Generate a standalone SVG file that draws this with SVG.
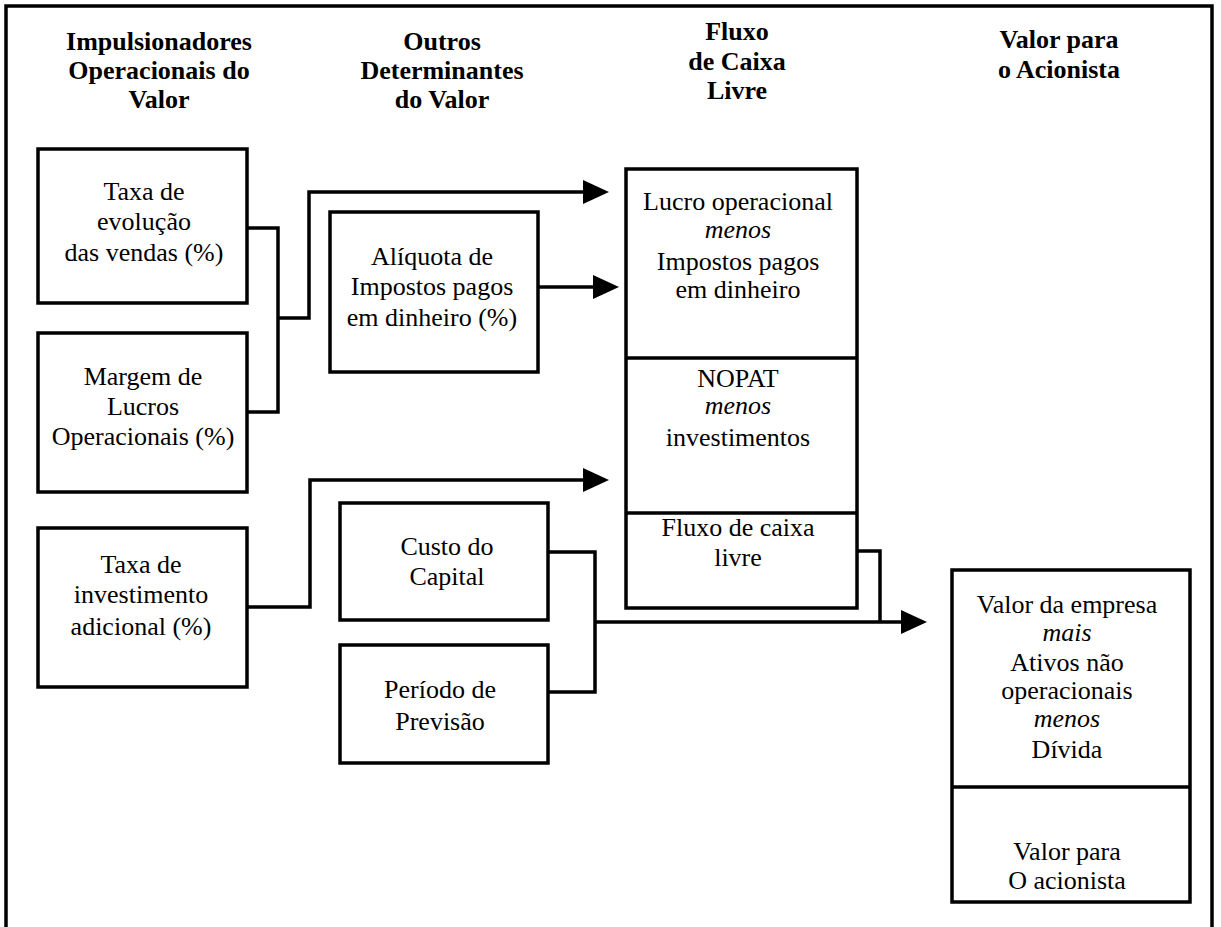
<svg xmlns="http://www.w3.org/2000/svg" width="1221" height="927" viewBox="0 0 1221 927">
<style>
  .box { fill: #fff; stroke: #000; stroke-width: 3.5; }
  .div { stroke: #000; stroke-width: 3.5; fill: none; }
  .line { stroke: #000; stroke-width: 3.5; fill: none; }
  .t { font-family: "Liberation Serif", "Times New Roman", serif; font-size: 26px; fill: #000; text-anchor: middle; }
  .h { font-family: "Liberation Serif", "Times New Roman", serif; font-size: 26px; font-weight: bold; fill: #000; text-anchor: middle; }
  .i { font-style: italic; }
</style>
<defs>
  <marker id="arr" markerUnits="userSpaceOnUse" markerWidth="26" markerHeight="24" refX="0" refY="12" orient="auto">
    <polygon points="0,0 26,12 0,24" fill="#000"/>
  </marker>
</defs>
<rect x="0" y="0" width="1221" height="927" fill="#fff"/>
<path d="M6,930 V6 H1212 V930" fill="none" stroke="#000" stroke-width="3.5"/>

<g id="headers">
  <text class="h" x="159" y="50">Impulsionadores</text>
  <text class="h" x="159" y="79">Operacionais do</text>
  <text class="h" x="159" y="108">Valor</text>
  <text class="h" x="442" y="50">Outros</text>
  <text class="h" x="442" y="79">Determinantes</text>
  <text class="h" x="442" y="108">do Valor</text>
  <text class="h" x="737" y="40">Fluxo</text>
  <text class="h" x="737" y="70">de Caixa</text>
  <text class="h" x="737" y="99">Livre</text>
  <text class="h" x="1059" y="48">Valor para</text>
  <text class="h" x="1059" y="78">o Acionista</text>
</g>

<g id="connectors">
  <path class="line" d="M247,228 H278 V412 H247"/>
  <path class="line" d="M278,318 H309 V192 H583" marker-end="url(#arr)"/>
  <path class="line" d="M538,287 H593" marker-end="url(#arr)"/>
  <path class="line" d="M247,607 H310 V480 H583" marker-end="url(#arr)"/>
  <path class="line" d="M548,552 H595 V692 H548"/>
  <path class="line" d="M595,622 H901" marker-end="url(#arr)"/>
  <path class="line" d="M857,551 H880 V622"/>
</g>

<g id="node-taxa-evolucao">
  <rect class="box" x="38" y="149" width="209" height="154"/>
  <text class="t" x="144" y="200">Taxa de</text>
  <text class="t" x="144" y="230">evolução</text>
  <text class="t" x="144" y="261">das vendas (%)</text>
</g>

<g id="node-margem">
  <rect class="box" x="38" y="333" width="209" height="159"/>
  <text class="t" x="143" y="385">Margem de</text>
  <text class="t" x="143" y="415">Lucros</text>
  <text class="t" x="143" y="445">Operacionais (%)</text>
</g>

<g id="node-taxa-investimento">
  <rect class="box" x="38" y="528" width="209" height="159"/>
  <text class="t" x="141" y="573">Taxa de</text>
  <text class="t" x="141" y="603">investimento</text>
  <text class="t" x="141" y="635">adicional (%)</text>
</g>

<g id="node-aliquota">
  <rect class="box" x="330" y="212" width="208" height="160"/>
  <text class="t" x="432" y="265">Alíquota de</text>
  <text class="t" x="432" y="295">Impostos pagos</text>
  <text class="t" x="432" y="326">em dinheiro (%)</text>
</g>

<g id="node-custo">
  <rect class="box" x="340" y="503" width="208" height="117"/>
  <text class="t" x="447" y="555">Custo do</text>
  <text class="t" x="447" y="585">Capital</text>
</g>

<g id="node-periodo">
  <rect class="box" x="340" y="645" width="208" height="118"/>
  <text class="t" x="440" y="698">Período de</text>
  <text class="t" x="440" y="730">Previsão</text>
</g>

<g id="node-fcl">
  <rect class="box" x="626" y="169" width="231" height="439"/>
  <line class="div" x1="626" y1="358" x2="857" y2="358"/>
  <line class="div" x1="626" y1="513" x2="857" y2="513"/>
  <text class="t" x="738" y="210">Lucro operacional</text>
  <text class="t i" x="738" y="238">menos</text>
  <text class="t" x="738" y="270">Impostos pagos</text>
  <text class="t" x="738" y="298">em dinheiro</text>
  <text class="t" x="738" y="387">NOPAT</text>
  <text class="t i" x="738" y="414">menos</text>
  <text class="t" x="738" y="446">investimentos</text>
  <text class="t" x="738" y="536">Fluxo de caixa</text>
  <text class="t" x="738" y="566">livre</text>
</g>

<g id="node-valor">
  <rect class="box" x="952" y="570" width="238" height="332"/>
  <line class="div" x1="952" y1="787" x2="1190" y2="787"/>
  <text class="t" x="1067" y="613">Valor da empresa</text>
  <text class="t i" x="1067" y="641">mais</text>
  <text class="t" x="1067" y="671">Ativos não</text>
  <text class="t" x="1067" y="699">operacionais</text>
  <text class="t i" x="1067" y="727">menos</text>
  <text class="t" x="1067" y="758">Dívida</text>
  <text class="t" x="1067" y="860">Valor para</text>
  <text class="t" x="1067" y="889">O acionista</text>
</g>
</svg>
